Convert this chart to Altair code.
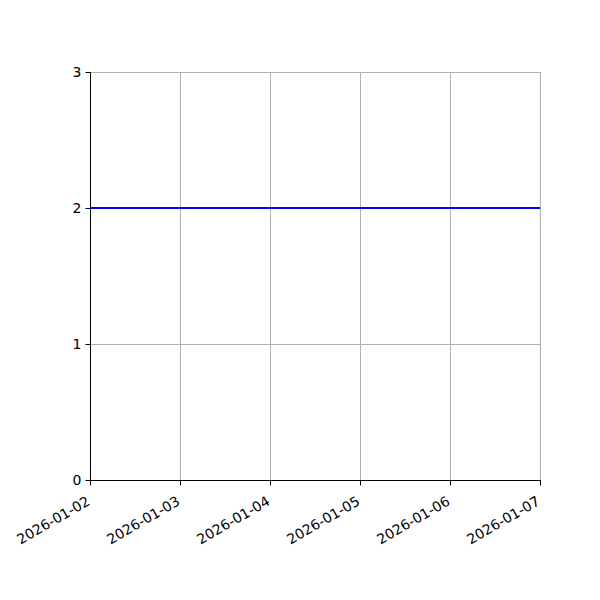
import altair as alt
import pandas as pd

dates = ["2026-01-02", "2026-01-03", "2026-01-04", "2026-01-05", "2026-01-06", "2026-01-07"]
values = [2, 2, 2, 2, 2, 2]
y_ticks = [0, 1, 2, 3]

source = pd.DataFrame({"date": dates, "value": values})

tick_dates = [alt.DateTime(year=2026, month=1, date=d, utc=True) for d in range(2, 8)]

line = (
    alt.Chart(source)
    .mark_line(color="#0000ff", strokeWidth=2, clip=True)
    .encode(
        x=alt.X(
            "date:T",
            scale=alt.Scale(
                type="utc",
                domain=[tick_dates[0], tick_dates[-1]],
                nice=False,
            ),
            axis=alt.Axis(
                title=None,
                values=tick_dates,
                labelExpr="utcFormat(datum.value, '%Y-%m-%d')",
                labelAngle=-30,
                labelAlign="right",
                labelBaseline="top",
                labelPadding=9,
                labelOffset=-5,
                labelOverlap=False,
                labelFlush=False,
            ),
        ),
        y=alt.Y(
            "value:Q",
            scale=alt.Scale(domain=[0, 3], nice=False, zero=False),
            axis=alt.Axis(title=None, values=y_ticks, format="d", labelPadding=4),
        ),
    )
)

chart = (
    line.properties(
        width=450,
        height=408,
        autosize=alt.AutoSizeParams(type="none"),
        padding={"left": 82, "top": 64, "right": 30, "bottom": 80},
        background="#ffffff",
    )
    .configure_view(stroke="#000000", strokeWidth=1)
    .configure_axis(
        labelFont="DejaVu Sans",
        labelFontSize=14,
        labelColor="#000000",
        domainColor="#000000",
        domainWidth=1,
        tickColor="#000000",
        tickSize=5,
        tickWidth=1,
        gridColor="#b0b0b0",
        gridWidth=1,
        grid=True,
    )
)

chart.save("out.html", embed_options={"renderer": "svg", "actions": False})
